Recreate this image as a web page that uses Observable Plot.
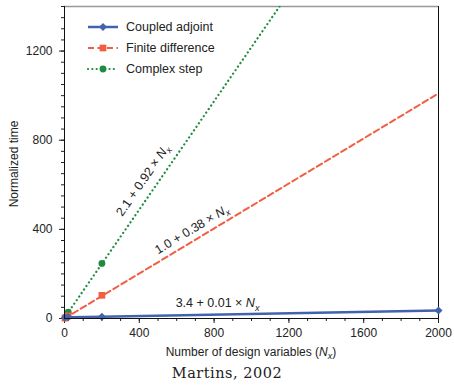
<!DOCTYPE html>
<html><head><meta charset="utf-8">
<script src="https://cdn.jsdelivr.net/npm/d3@7"></script>
<script src="https://cdn.jsdelivr.net/npm/@observablehq/plot@0.6"></script>
<style>
body{margin:0;background:#fff}
#caption{width:454px;text-align:center;font-family:"DejaVu Serif",serif;font-size:14.5px;letter-spacing:0.5px;color:#222;line-height:23px;height:23px}
</style>
</head><body>
<div id="chart"></div>
<div id="caption">Martins, 2002</div>
<script>
// ---- data ----
const nxAdjoint = [3, 20, 200, 2000];
const coupledAdjoint = [4, 6, 8, 36];
const nxSamples = [3, 20, 200];
const finiteDifference = [2, 12, 104];
const complexStep = [5, 28, 247];
const fitNx = [0, 2000];
const finiteDifferenceFit = [0, 1010];
const complexStepFit = [3, 2433];
const seriesNames = ["Coupled adjoint", "Finite difference", "Complex step"];
const xTicks = [0, 400, 800, 1200, 1600, 2000];
const yTicks = [0, 400, 800, 1200];
const xMinor = d3.range(0, 2001, 100);
const yMinor = d3.range(0, 1401, 50);
const annotations = [
  {pre: "2.1 + 0.92 × ", x: 420, y: 619, series: 2},
  {pre: "1.0 + 0.38 × ", x: 683, y: 399, series: 1},
  {pre: "3.4 + 0.01 × ", x: 821, y: 67, series: 0}
];

const blue = "#4262ad", red = "#f15f42", green = "#1f8b3f";
const font = '"Liberation Sans", Arial, Helvetica, sans-serif';

const adj = nxAdjoint.map((x, i) => ({x, y: coupledAdjoint[i]}));
const fd = nxSamples.map((x, i) => ({x, y: finiteDifference[i]}));
const cs = nxSamples.map((x, i) => ({x, y: complexStep[i]}));
const fdFit = fitNx.map((x, i) => ({x, y: finiteDifferenceFit[i]}));
const csFit = fitNx.map((x, i) => ({x, y: complexStepFit[i]}));

const chart = Plot.plot({
  width: 454, height: 362,
  marginLeft: 64, marginRight: 16, marginTop: 6, marginBottom: 44,
  style: {fontFamily: font, fontSize: "12px", color: "#222", background: "#fff"},
  x: {domain: [0, 2000]},
  y: {domain: [0, 1400]},
  marks: [
    Plot.axisX({ticks: xMinor, tickSize: 3, text: null, label: null}),
    Plot.axisX({ticks: xTicks, tickSize: 5, tickPadding: 5, label: null, tickFormat: d => String(d)}),
    Plot.axisY({ticks: yMinor, tickSize: 3, text: null, label: null}),
    Plot.axisY({ticks: yTicks, tickSize: 5, tickPadding: 7, label: null, tickFormat: d => String(d)}),
    Plot.ruleY([1400], {stroke: "#999", strokeWidth: 1.5}),
    Plot.ruleX([2000], {stroke: "#111"}),
    Plot.line(csFit, {x: "x", y: "y", stroke: green, strokeWidth: 2.2, strokeDasharray: "0.1,4.2", strokeLinecap: "round", clip: true}),
    Plot.line(fdFit, {x: "x", y: "y", stroke: red, strokeWidth: 2, strokeDasharray: "6,3.5", clip: true}),
    Plot.dot(cs, {x: "x", y: "y", r: 3.4, fill: green, symbol: "circle"}),
    Plot.dot(fd, {x: "x", y: "y", r: 3.8, fill: red, symbol: "square"}),
    Plot.line(adj, {x: "x", y: "y", stroke: blue, strokeWidth: 2.5}),
    Plot.dot(adj, {x: "x", y: "y", r: 3.6, fill: blue, stroke: "none", symbol: "diamond2"}),
    Plot.ruleX([0], {stroke: "#111"}),
    Plot.ruleY([0], {stroke: "#111"})
  ]
});
document.getElementById("chart").append(chart);

const sx = chart.scale("x"), sy = chart.scale("y");
const svg = d3.select(chart);

// annotation formulas
const fits = [
  [{x: nxAdjoint[2], y: coupledAdjoint[2]}, {x: nxAdjoint[3], y: coupledAdjoint[3]}],
  fdFit, [csFit[0], {x: 1000, y: complexStepFit[0] + (complexStepFit[1] - complexStepFit[0]) / 2}]
];
annotations.forEach(a => {
  let ang = 0;
  if (a.series > 0) {
    const [p, q] = fits[a.series];
    ang = Math.atan2(sy.apply(q.y) - sy.apply(p.y), sx.apply(q.x) - sx.apply(p.x)) * 180 / Math.PI;
  }
  const t = svg.append("text")
    .attr("transform", `translate(${sx.apply(a.x)},${sy.apply(a.y)}) rotate(${ang})`)
    .attr("text-anchor", "middle").attr("dy", "0.35em")
    .attr("font-family", font).attr("font-size", 12.5).attr("fill", "#222");
  t.append("tspan").text(a.pre);
  t.append("tspan").attr("font-style", "italic").text("N");
  t.append("tspan").attr("font-style", "italic").attr("font-size", 9).attr("dy", "0.35em").text("x");
});

// axis labels
svg.append("text").attr("transform", "translate(14,164) rotate(-90)")
  .attr("text-anchor", "middle").attr("dy", "0.35em")
  .attr("font-family", font).attr("font-size", 12).attr("fill", "#222").text("Normalized time");
const xl = svg.append("text").attr("x", (sx.range[0] + sx.range[1]) / 2).attr("y", 356)
  .attr("text-anchor", "middle").attr("font-family", font).attr("font-size", 12).attr("fill", "#222");
xl.append("tspan").text("Number of design variables (");
xl.append("tspan").attr("font-style", "italic").text("N");
xl.append("tspan").attr("font-style", "italic").attr("font-size", 9).attr("dy", 3).text("x");
xl.append("tspan").attr("dy", -3).text(")");

// legend
const colors = [blue, red, green];
const dashes = [null, "6,3.5", "0.1,4.2"];
const syms = [d3.symbolDiamond2, d3.symbolSquare, d3.symbolCircle];
const symSizes = [Math.PI * 3.6 * 3.6, Math.PI * 3.8 * 3.8, Math.PI * 3.4 * 3.4];
const lg = svg.append("g").attr("text-anchor", "start");
seriesNames.forEach((name, i) => {
  const yy = 27 + i * 21;
  lg.append("line").attr("x1", 88).attr("x2", 118).attr("y1", yy).attr("y2", yy)
    .attr("stroke", colors[i]).attr("stroke-width", i === 0 ? 2.5 : 2.2)
    .attr("stroke-dasharray", dashes[i]).attr("stroke-linecap", i === 2 ? "round" : "butt");
  lg.append("path").attr("d", d3.symbol(syms[i], symSizes[i])()).attr("transform", `translate(103,${yy})`).attr("fill", colors[i]);
  lg.append("text").attr("x", 126).attr("y", yy).attr("dy", "0.35em").attr("text-anchor", "start")
    .attr("font-family", font).attr("font-size", 12.5).attr("fill", "#222").text(name);
});
</script>
</body></html>
